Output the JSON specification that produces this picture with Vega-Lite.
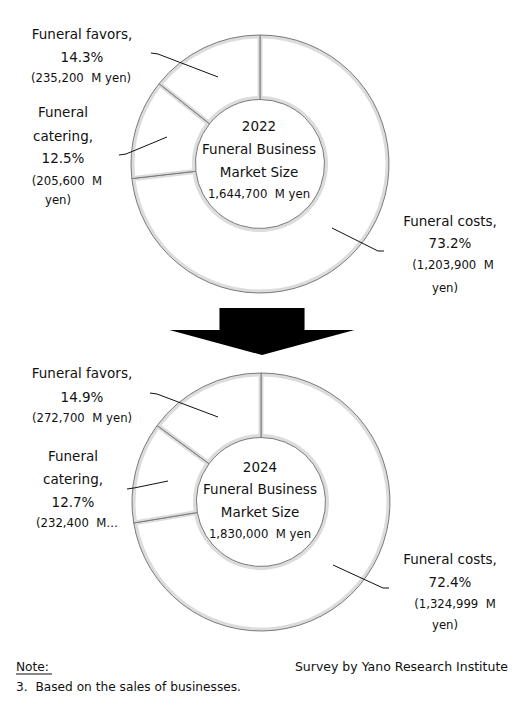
{
  "$schema": "https://vega.github.io/schema/vega-lite/v6.json",
  "width": 529,
  "height": 709,
  "autosize": {"type": "fit", "contains": "padding"},
  "padding": 0,
  "background": "white",
  "config": {
    "view": {"stroke": null},
    "axis": {"disable": true},
    "text": {"font": "DejaVu Sans", "color": "#111111"}
  },
  "datasets": {
    "shares": [
      {"year": "2022", "segment": "Funeral costs", "order": 1, "pct": 73.2, "myen": 1203900},
      {"year": "2022", "segment": "Funeral catering", "order": 2, "pct": 12.5, "myen": 205600},
      {"year": "2022", "segment": "Funeral favors", "order": 3, "pct": 14.3, "myen": 235200},
      {"year": "2024", "segment": "Funeral costs", "order": 1, "pct": 72.4, "myen": 1324999},
      {"year": "2024", "segment": "Funeral catering", "order": 2, "pct": 12.7, "myen": 232400},
      {"year": "2024", "segment": "Funeral favors", "order": 3, "pct": 14.9, "myen": 272700}
    ],
    "labels": [
      {"x": 82, "y": 35, "text": "Funeral favors,", "role": "main"},
      {"x": 82, "y": 58, "text": "14.3%", "role": "main"},
      {"x": 81, "y": 78, "text": "(235,200\u00a0 M yen)", "role": "detail"},
      {"x": 63, "y": 113, "text": "Funeral", "role": "main"},
      {"x": 63, "y": 137, "text": "catering,", "role": "main"},
      {"x": 63, "y": 159, "text": "12.5%", "role": "main"},
      {"x": 67, "y": 181, "text": "(205,600\u00a0 M", "role": "detail"},
      {"x": 58, "y": 200, "text": "yen)", "role": "detail"},
      {"x": 450, "y": 222, "text": "Funeral costs,", "role": "main"},
      {"x": 450, "y": 244, "text": "73.2%", "role": "main"},
      {"x": 453, "y": 265, "text": "(1,203,900\u00a0 M", "role": "detail"},
      {"x": 445, "y": 288, "text": "yen)", "role": "detail"},
      {"x": 259, "y": 127, "text": "2022", "role": "main"},
      {"x": 259, "y": 150, "text": "Funeral Business", "role": "main"},
      {"x": 259, "y": 173, "text": "Market Size", "role": "main"},
      {"x": 259, "y": 194, "text": "1,644,700\u00a0 M yen", "role": "detail"},
      {"x": 82, "y": 374, "text": "Funeral favors,", "role": "main"},
      {"x": 82, "y": 398, "text": "14.9%", "role": "main"},
      {"x": 82, "y": 418, "text": "(272,700\u00a0 M yen)", "role": "detail"},
      {"x": 73, "y": 457, "text": "Funeral", "role": "main"},
      {"x": 73, "y": 480, "text": "catering,", "role": "main"},
      {"x": 73, "y": 503, "text": "12.7%", "role": "main"},
      {"x": 77, "y": 523, "text": "(232,400\u00a0 M\u2026", "role": "detail"},
      {"x": 450, "y": 560, "text": "Funeral costs,", "role": "main"},
      {"x": 450, "y": 583, "text": "72.4%", "role": "main"},
      {"x": 455, "y": 604, "text": "(1,324,999\u00a0 M", "role": "detail"},
      {"x": 445, "y": 625, "text": "yen)", "role": "detail"},
      {"x": 260, "y": 468, "text": "2024", "role": "main"},
      {"x": 260, "y": 490, "text": "Funeral Business", "role": "main"},
      {"x": 260, "y": 513, "text": "Market Size", "role": "main"},
      {"x": 260, "y": 534, "text": "1,830,000\u00a0 M yen", "role": "detail"}
    ],
    "leaders": [
      {"x": 151, "y": 53, "x2": 158, "y2": 54},
      {"x": 158, "y": 54, "x2": 218, "y2": 77},
      {"x": 119, "y": 155, "x2": 126, "y2": 154},
      {"x": 126, "y": 154, "x2": 167, "y2": 137},
      {"x": 332, "y": 228, "x2": 378, "y2": 251},
      {"x": 378, "y": 251, "x2": 384, "y2": 251},
      {"x": 150, "y": 393, "x2": 157, "y2": 394},
      {"x": 157, "y": 394, "x2": 218, "y2": 417},
      {"x": 127, "y": 489, "x2": 134, "y2": 488},
      {"x": 134, "y": 488, "x2": 168, "y2": 481},
      {"x": 333, "y": 565, "x2": 383, "y2": 588},
      {"x": 383, "y": 588, "x2": 389, "y2": 588},
      {"x": 16, "y": 674, "x2": 52, "y2": 674}
    ],
    "notes": [
      {"x": 16, "y": 667, "text": "Note:"},
      {"x": 16, "y": 687, "text": "3.\u00a0 Based on the sales of businesses."}
    ],
    "source": [
      {"x": 508, "y": 667, "text": "Survey by Yano Research Institute"}
    ]
  },
  "layer": [
    {
      "data": {"name": "shares"},
      "transform": [
        {"filter": "datum.year == '2022'"},
        {"stack": "pct", "groupby": ["year"], "sort": [{"field": "order", "order": "ascending"}], "as": ["t0", "t1"]}
      ],
      "mark": {"type": "arc", "outerRadius": 129, "innerRadius": 64.5, "fill": "#dcdcdc", "stroke": "#7a7a7a", "strokeWidth": 1},
      "encoding": {
        "theta": {"field": "t0", "type": "quantitative", "stack": null, "scale": {"domain": [0, 100]}},
        "theta2": {"field": "t1"},
        "x": {"datum": 260, "type": "quantitative", "scale": {"domain": [0, 529], "nice": false, "zero": false}, "axis": null},
        "y": {"datum": 164, "type": "quantitative", "scale": {"domain": [0, 709], "nice": false, "zero": false, "reverse": true}, "axis": null}
      }
    },
    {
      "data": {"name": "shares"},
      "transform": [
        {"filter": "datum.year == '2022'"},
        {"stack": "pct", "groupby": ["year"], "sort": [{"field": "order", "order": "ascending"}], "as": ["t0", "t1"]}
      ],
      "mark": {"type": "arc", "outerRadius": 125.5, "innerRadius": 68, "padAngle": 0.035, "fill": "white"},
      "encoding": {
        "theta": {"field": "t0", "type": "quantitative", "stack": null},
        "theta2": {"field": "t1"},
        "x": {"datum": 260, "type": "quantitative"},
        "y": {"datum": 164, "type": "quantitative"},
        "tooltip": [
          {"field": "segment", "type": "nominal"},
          {"field": "pct", "type": "quantitative", "title": "%"},
          {"field": "myen", "type": "quantitative", "title": "M yen", "format": ","}
        ]
      }
    },
    {
      "data": {"name": "shares"},
      "transform": [
        {"filter": "datum.year == '2024'"},
        {"stack": "pct", "groupby": ["year"], "sort": [{"field": "order", "order": "ascending"}], "as": ["t0", "t1"]}
      ],
      "mark": {"type": "arc", "outerRadius": 129, "innerRadius": 64.5, "fill": "#dcdcdc", "stroke": "#7a7a7a", "strokeWidth": 1},
      "encoding": {
        "theta": {"field": "t0", "type": "quantitative", "stack": null},
        "theta2": {"field": "t1"},
        "x": {"datum": 261, "type": "quantitative"},
        "y": {"datum": 502, "type": "quantitative"}
      }
    },
    {
      "data": {"name": "shares"},
      "transform": [
        {"filter": "datum.year == '2024'"},
        {"stack": "pct", "groupby": ["year"], "sort": [{"field": "order", "order": "ascending"}], "as": ["t0", "t1"]}
      ],
      "mark": {"type": "arc", "outerRadius": 125.5, "innerRadius": 68, "padAngle": 0.035, "fill": "white"},
      "encoding": {
        "theta": {"field": "t0", "type": "quantitative", "stack": null},
        "theta2": {"field": "t1"},
        "x": {"datum": 261, "type": "quantitative"},
        "y": {"datum": 502, "type": "quantitative"},
        "tooltip": [
          {"field": "segment", "type": "nominal"},
          {"field": "pct", "type": "quantitative", "title": "%"},
          {"field": "myen", "type": "quantitative", "title": "M yen", "format": ","}
        ]
      }
    },
    {
      "mark": {
        "type": "point",
        "filled": true,
        "color": "black",
        "opacity": 1,
        "size": 34225,
        "shape": "M-0.46,-0.254L0.46,-0.254L0.46,-0.016L1,-0.016L0,0.254L-1,-0.016L-0.46,-0.016Z"
      },
      "encoding": {
        "x": {"datum": 262, "type": "quantitative"},
        "y": {"datum": 331.5, "type": "quantitative"}
      }
    },
    {
      "data": {"name": "leaders"},
      "mark": {"type": "rule", "color": "#111111", "strokeWidth": 1},
      "encoding": {
        "x": {"field": "x", "type": "quantitative"},
        "y": {"field": "y", "type": "quantitative"},
        "x2": {"field": "x2"},
        "y2": {"field": "y2"}
      }
    },
    {
      "data": {"name": "labels"},
      "mark": {"type": "text", "align": "center", "baseline": "middle"},
      "encoding": {
        "x": {"field": "x", "type": "quantitative"},
        "y": {"field": "y", "type": "quantitative"},
        "text": {"field": "text"},
        "size": {"field": "role", "type": "nominal", "scale": {"domain": ["main", "detail"], "range": [13.5, 11.7]}, "legend": null}
      }
    },
    {
      "data": {"name": "notes"},
      "mark": {"type": "text", "align": "left", "baseline": "middle", "fontSize": 12.2},
      "encoding": {
        "x": {"field": "x", "type": "quantitative"},
        "y": {"field": "y", "type": "quantitative"},
        "text": {"field": "text"}
      }
    },
    {
      "data": {"name": "source"},
      "mark": {"type": "text", "align": "right", "baseline": "middle", "fontSize": 12.5},
      "encoding": {
        "x": {"field": "x", "type": "quantitative"},
        "y": {"field": "y", "type": "quantitative"},
        "text": {"field": "text"}
      }
    }
  ]
}
